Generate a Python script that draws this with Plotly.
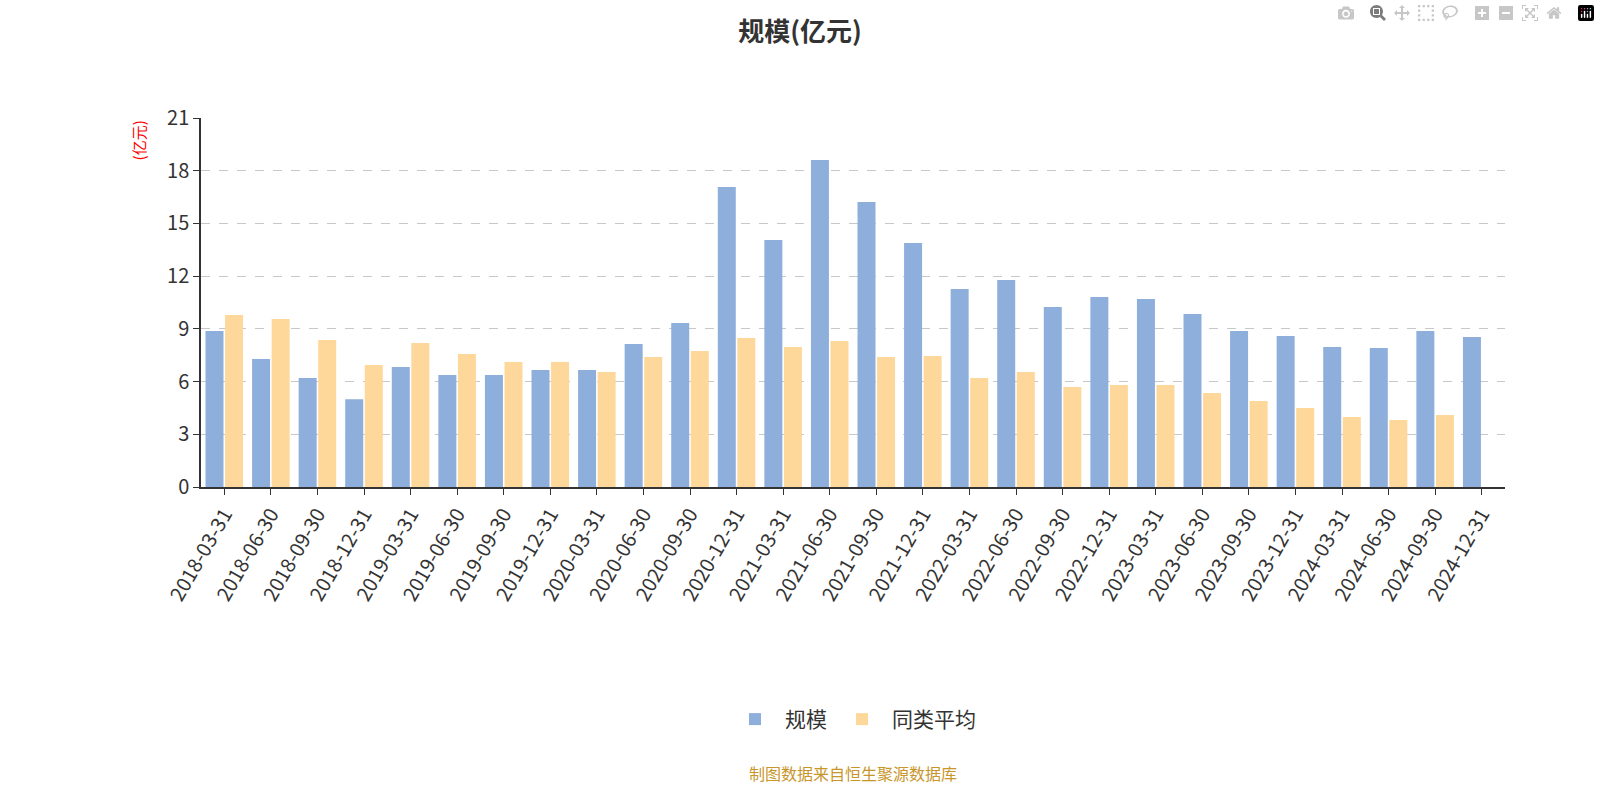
import plotly.graph_objects as go

dates = ["2018-03-31","2018-06-30","2018-09-30","2018-12-31","2019-03-31","2019-06-30","2019-09-30","2019-12-31",
         "2020-03-31","2020-06-30","2020-09-30","2020-12-31","2021-03-31","2021-06-30","2021-09-30","2021-12-31",
         "2022-03-31","2022-06-30","2022-09-30","2022-12-31","2023-03-31","2023-06-30","2023-09-30","2023-12-31",
         "2024-03-31","2024-06-30","2024-09-30","2024-12-31"]
scale = [8.88,7.28,6.2,5.0,6.83,6.37,6.37,6.66,6.66,8.14,9.33,17.07,14.06,18.61,16.22,13.89,
         11.27,11.78,10.24,10.81,10.7,9.85,8.88,8.59,7.97,7.91,8.88,8.54]
avg = [9.79,9.56,8.37,6.94,8.2,7.57,7.11,7.11,6.55,7.4,7.74,8.48,7.97,8.31,7.4,7.46,
       6.2,6.55,5.69,5.81,5.81,5.35,4.89,4.5,3.98,3.81,4.1,None]

font = "Noto Sans CJK SC"
fig = go.Figure()
fig.add_bar(x=dates, y=scale, name="规模", marker=dict(color="#8eaedb", line=dict(width=0)))
fig.add_bar(x=dates, y=avg, name="同类平均", marker=dict(color="#fed89a", line=dict(width=0)))
fig.update_layout(
    width=1600, height=800, paper_bgcolor="white", plot_bgcolor="white",
    font=dict(family=font, color="#333"),
    title=dict(text="<b>规模(亿元)</b>", x=0.5, y=0.972, xanchor="center", font=dict(size=26, color="#333")),
    margin=dict(l=201, r=95, t=118, b=313),
    barmode="group", bargap=0.16, bargroupgap=0.08,
    showlegend=True,
    legend=dict(orientation="h", x=0.5, xanchor="center", y=-0.63, yanchor="middle",
                font=dict(size=21, color="#333"), itemwidth=50),
    xaxis=dict(type="category", tickangle=-60, tickfont=dict(size=20, color="#333"),
               showline=True, linecolor="#333", linewidth=1.5, ticks="outside", ticklen=6,
               tickcolor="#333", showgrid=False),
    yaxis=dict(range=[0, 21], dtick=3, tickfont=dict(size=20, color="#333"),
               showline=True, linecolor="#333", linewidth=1.5, ticks="outside", ticklen=6,
               tickcolor="#333", gridcolor="#c8c8c8", griddash="dash", zeroline=False),
    annotations=[
        dict(text="(亿元)", textangle=-90, x=-0.048, y=1.0, xref="paper", yref="paper",
             xanchor="center", yanchor="top", showarrow=False, font=dict(size=15, color="red")),
        dict(text="制图数据来自恒生聚源数据库", x=0.5, y=-0.776, xref="paper", yref="paper",
             xanchor="center", yanchor="middle", showarrow=False, font=dict(size=16, color="#c8962a")),
    ],
)
fig.write_html("out.html",
               post_script="document.body.style.margin='0';document.body.style.overflow='hidden';")
